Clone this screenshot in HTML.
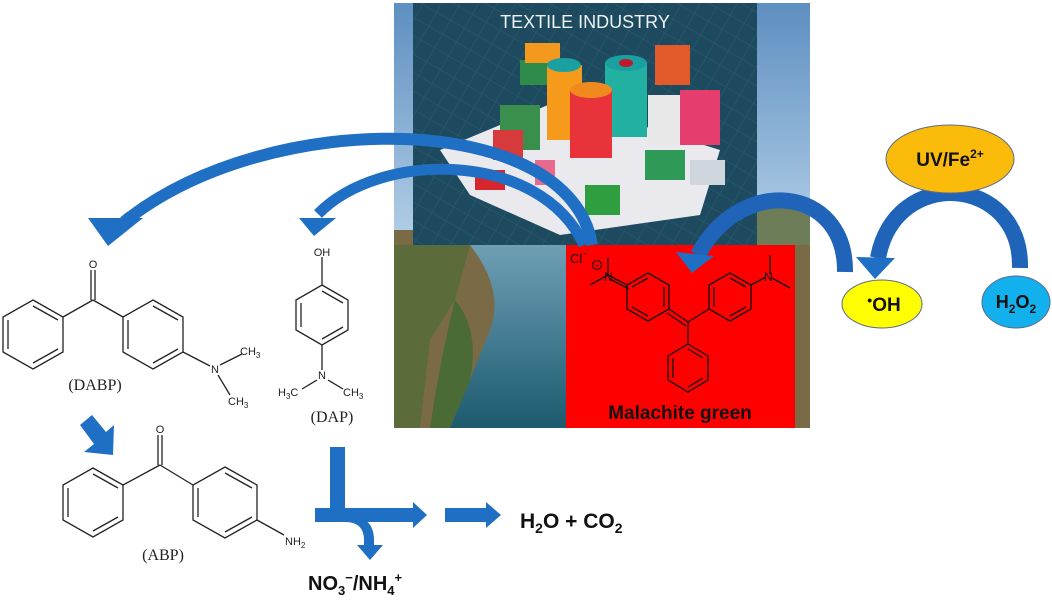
<!DOCTYPE html>
<html><head><meta charset="utf-8"><style>
html,body{margin:0;padding:0;background:#fff;}
svg{display:block}
</style></head><body>
<svg width="1052" height="601" viewBox="0 0 1052 601" xmlns="http://www.w3.org/2000/svg" font-family="Liberation Sans,sans-serif">
<defs>
<linearGradient id="sky" x1="0" y1="0" x2="0" y2="1"><stop offset="0" stop-color="#5d8fc0"/><stop offset="0.6" stop-color="#b9d3ea"/><stop offset="1" stop-color="#8fb3d6"/></linearGradient>
<linearGradient id="riv" x1="0" y1="0" x2="0" y2="1"><stop offset="0" stop-color="#6e9fb5"/><stop offset="1" stop-color="#1d5a6e"/></linearGradient>
<pattern id="grid" width="16" height="16" patternUnits="userSpaceOnUse" patternTransform="rotate(30)"><path d="M0 0H16M0 0V16" stroke="#2c5d72" stroke-width="1"/></pattern>
</defs>
<rect x="394" y="3" width="416" height="425" fill="url(#sky)"/>
<rect x="394" y="230" width="416" height="198" fill="#7a6a45"/>
<path d="M394 245 L470 245 L455 300 L430 340 L420 428 L394 428Z" fill="#5c6b3a"/>
<path d="M470 245 L566 245 L566 428 L450 428 Q470 380 490 330 Q505 290 470 245Z" fill="url(#riv)"/>
<path d="M455 300 Q480 330 470 380 L450 428 L430 428 Q440 360 455 300Z" fill="#4a6b35"/>
<rect x="757" y="200" width="53" height="45" fill="#6d7d58"/>
<rect x="413" y="3" width="344" height="242" fill="#1d4a5f"/>
<rect x="413" y="3" width="344" height="242" fill="url(#grid)"/>
<text x="585" y="28" text-anchor="middle" font-size="18" fill="#eef3f5">TEXTILE INDUSTRY</text>
<polygon points="440,150 560,100 720,150 700,215 560,235 470,195" fill="#e9e9ee"/>
<rect x="520" y="60" width="50" height="25" fill="#2e8b4a"/>
<rect x="525" y="43" width="35" height="20" fill="#f39a1e"/>
<rect x="500" y="105" width="40" height="45" fill="#3a8f4c"/>
<rect x="493" y="130" width="30" height="30" fill="#d63a3a"/>
<rect x="547" y="65" width="35" height="75" fill="#f69a1c"/>
<ellipse cx="564" cy="65" rx="17" ry="7" fill="#1aa0a0"/>
<rect x="605" y="62" width="42" height="75" fill="#22b1a0"/>
<ellipse cx="626" cy="63" rx="21" ry="8" fill="#1aa0a0"/><ellipse cx="626" cy="63" rx="7" ry="4" fill="#c0192a"/>
<rect x="570" y="90" width="42" height="68" fill="#e8333a"/>
<ellipse cx="591" cy="90" rx="21" ry="8" fill="#f08a1e"/>
<rect x="648" y="95" width="40" height="50" fill="#e8e8e8"/>
<rect x="680" y="90" width="40" height="55" fill="#e53d6e"/>
<rect x="655" y="45" width="35" height="40" fill="#e25a2a"/>
<rect x="645" y="150" width="40" height="30" fill="#2f9a58"/>
<rect x="585" y="185" width="35" height="30" fill="#2e9e3e"/>
<rect x="475" y="170" width="30" height="20" fill="#d8252e"/>
<rect x="690" y="160" width="35" height="25" fill="#cfd6dd"/>
<rect x="535" y="160" width="20" height="25" fill="#e66a8e"/>
<rect x="566" y="245" width="229" height="183" fill="#ff0000"/>
<g stroke="#111" stroke-width="1.3" fill="none">
<polygon points="648,273 669,285 669,309 648,321 627,309 627,285"/>
<polyline points="632,287 648,278" /><polyline points="664,287 664,307"/><polyline points="632,307 648,316"/>
<line x1="627" y1="285" x2="608" y2="275"/><line x1="629" y1="289" x2="610" y2="279"/>
<line x1="608" y1="275" x2="608" y2="258"/><line x1="608" y1="275" x2="590" y2="285"/>
<line x1="669" y1="309" x2="688" y2="322"/><line x1="667" y1="313" x2="686" y2="326"/>
<polygon points="730,273 751,285 751,309 730,321 709,309 709,285"/>
<line x1="714" y1="287" x2="714" y2="307"/><line x1="730" y1="278" x2="746" y2="287"/><line x1="730" y1="316" x2="746" y2="307"/>
<line x1="688" y1="322" x2="709" y2="309"/>
<line x1="751" y1="285" x2="766" y2="277"/><line x1="770" y1="274" x2="770" y2="255"/><line x1="772" y1="278" x2="790" y2="288"/>
<line x1="688" y1="322" x2="688" y2="344"/>
<polygon points="688,344 708,356 708,380 688,392 668,380 668,356"/>
<line x1="673" y1="358" x2="673" y2="378"/><line x1="688" y1="349" x2="703" y2="358"/><line x1="688" y1="387" x2="703" y2="378"/>
<circle cx="597" cy="265" r="4.5" stroke-width="1"/>
</g>
<text x="597" y="268" text-anchor="middle" font-size="7" fill="#111">+</text>
<text x="604" y="281" font-size="12" fill="#111">N</text>
<text x="764" y="281" font-size="12" fill="#111">N</text>
<text x="570" y="263" font-size="13" fill="#111">Cl</text><text x="583" y="256" font-size="8" fill="#111">−</text>
<text x="680" y="419" text-anchor="middle" font-size="19" font-weight="bold" fill="#111">Malachite green</text>

<g fill="none" stroke-linecap="butt">
<path d="M592 245 C570 110, 270 105, 124 222" stroke="#1f6fc4" stroke-width="12"/>
<path d="M584 245 C540 150, 380 150, 318 214" stroke="#1f6fc4" stroke-width="11"/>
<path d="M845 272 C846 185, 740 175, 698 255" stroke="#1f64b8" stroke-width="16"/>
<path d="M1020 268 C1022 175, 895 165, 878 258" stroke="#1f64b8" stroke-width="16"/>
</g>
<g fill="#1f6fc4">
<polygon points="108,246 88,218 143,218"/>
<polygon points="314,236 299,218 336,218"/>
<polygon points="692,273 676,252 714,256"/>
<polygon points="875,279 856,257 895,258"/>
<polygon points="80,425 92,415 106,432 114,425 113,455 84,452 94,444"/>
<rect x="330" y="447" width="15" height="62"/>
<rect x="315" y="508" width="100" height="14"/>
<polygon points="413,502 427,515 413,528"/>
<rect x="445" y="508" width="43" height="14"/>
<polygon points="486,502 501,515 486,528"/>
<path d="M345 515 Q374 515 374 540 L374 545 L383 545 L370 560 L357 545 L364 545 L364 540 Q364 522 345 522Z"/>
</g>

<ellipse cx="950" cy="159" rx="64" ry="34" fill="#fbbb0b" stroke="#5a6b8a" stroke-width="1"/>
<text x="950" y="166" text-anchor="middle" font-size="19" font-weight="bold" fill="#111">UV/Fe<tspan font-size="12" dy="-8">2+</tspan></text>
<ellipse cx="882" cy="304" rx="40" ry="24" fill="#ffff00" stroke="#5a6b8a" stroke-width="1"/>
<text x="884" y="311" text-anchor="middle" font-size="19" font-weight="bold" fill="#111"><tspan font-size="14" dy="-6">•</tspan><tspan dy="6">OH</tspan></text>
<ellipse cx="1016" cy="302" rx="34" ry="26" fill="#13b0ee" stroke="#5a6b8a" stroke-width="1"/>
<text x="1016" y="308" text-anchor="middle" font-size="18" font-weight="bold" fill="#111">H<tspan font-size="12" dy="5">2</tspan><tspan dy="-5">O</tspan><tspan font-size="12" dy="5">2</tspan></text>

<g stroke="#222" stroke-width="1.3" fill="none">
<polygon points="33,300 63,317 63,352 33,369 3,352 3,317"/>
<line x1="8" y1="320" x2="8" y2="349"/><line x1="33" y1="306" x2="58" y2="320"/><line x1="33" y1="363" x2="58" y2="349"/>
<line x1="63" y1="317" x2="93" y2="300"/><line x1="93" y1="300" x2="123" y2="317"/>
<line x1="91" y1="300" x2="91" y2="270"/><line x1="95" y1="300" x2="95" y2="270"/>
<polygon points="153,300 183,317 183,352 153,369 123,352 123,317"/>
<line x1="128" y1="320" x2="128" y2="349"/><line x1="153" y1="306" x2="178" y2="320"/><line x1="153" y1="363" x2="178" y2="349"/>
<line x1="183" y1="352" x2="210" y2="366"/><line x1="220" y1="365" x2="242" y2="354"/><line x1="218" y1="375" x2="230" y2="395"/>
<polygon points="322,285 348,300 348,330 322,345 296,330 296,300"/>
<line x1="301" y1="303" x2="301" y2="327"/><line x1="322" y1="291" x2="343" y2="303"/><line x1="322" y1="339" x2="343" y2="327"/>
<line x1="322" y1="285" x2="322" y2="257"/><line x1="322" y1="345" x2="322" y2="370"/>
<line x1="317" y1="380" x2="302" y2="389"/><line x1="328" y1="380" x2="343" y2="389"/>
<polygon points="93,468 123,485 123,520 93,537 63,520 63,485"/>
<line x1="68" y1="488" x2="68" y2="517"/><line x1="93" y1="474" x2="118" y2="488"/><line x1="93" y1="531" x2="118" y2="517"/>
<line x1="123" y1="485" x2="160" y2="465"/><line x1="160" y1="465" x2="193" y2="485"/>
<line x1="158" y1="465" x2="158" y2="435"/><line x1="162" y1="465" x2="162" y2="435"/>
<polygon points="225,467 257,485 257,520 225,538 193,520 193,485"/>
<line x1="198" y1="488" x2="198" y2="517"/><line x1="225" y1="473" x2="252" y2="488"/><line x1="225" y1="532" x2="252" y2="517"/>
<line x1="257" y1="520" x2="284" y2="535"/>
</g>
<g font-size="11" fill="#222">
<text x="93" y="268" text-anchor="middle">O</text>
<text x="215" y="373" text-anchor="middle">N</text>
<text x="240" y="355">CH<tspan font-size="8" dy="3">3</tspan></text>
<text x="228" y="405">CH<tspan font-size="8" dy="3">3</tspan></text>
<text x="322" y="256" text-anchor="middle">OH</text>
<text x="322" y="379" text-anchor="middle">N</text>
<text x="278" y="396">H<tspan font-size="8" dy="3">3</tspan><tspan dy="-3">C</tspan></text>
<text x="343" y="396">CH<tspan font-size="8" dy="3">3</tspan></text>
<text x="160" y="433" text-anchor="middle">O</text>
<text x="285" y="545">NH<tspan font-size="8" dy="3">2</tspan></text>
</g>
<g font-family="Liberation Serif,serif" font-size="16" fill="#222">
<text x="95" y="390" text-anchor="middle" font-family="Liberation Serif,serif">(DABP)</text>
<text x="332" y="422" text-anchor="middle" font-family="Liberation Serif,serif">(DAP)</text>
<text x="163" y="560" text-anchor="middle" font-family="Liberation Serif,serif">(ABP)</text>
</g>
<text x="520" y="528" font-size="21" font-weight="bold" fill="#111">H<tspan font-size="14" dy="5">2</tspan><tspan dy="-5">O + CO</tspan><tspan font-size="14" dy="5">2</tspan></text>
<text x="308" y="590" font-size="20" font-weight="bold" fill="#111">NO<tspan font-size="13" dy="5">3</tspan><tspan font-size="13" dy="-13">−</tspan><tspan dy="8">/NH</tspan><tspan font-size="13" dy="5">4</tspan><tspan font-size="13" dy="-13">+</tspan></text>
</svg>
</body></html>
